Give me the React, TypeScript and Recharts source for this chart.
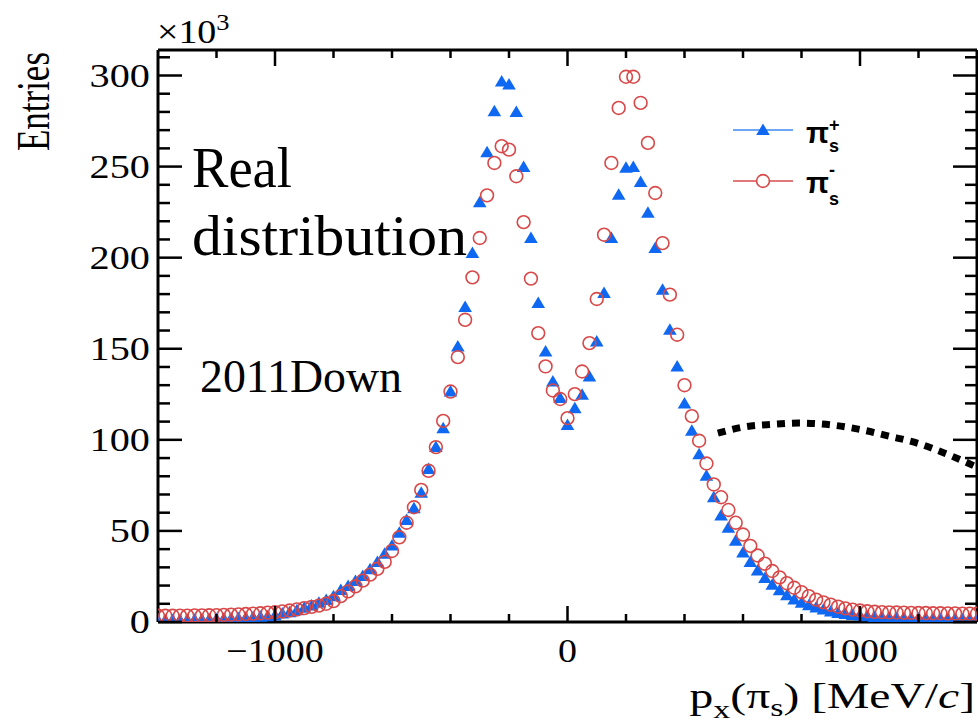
import React from 'react';
import { ScatterChart, Scatter, XAxis, YAxis, Legend } from 'recharts';

// ---------- data ----------
const binCentres = [
  -1400, -1375, -1350, -1325, -1300, -1275, -1250, -1225, -1200, -1175,
  -1150, -1125, -1100, -1075, -1050, -1025, -1000, -975, -950, -925,
  -900, -875, -850, -825, -800, -775, -750, -725, -700, -675,
  -650, -625, -600, -575, -550, -525, -500, -475, -450, -425,
  -400, -375, -350, -325, -300, -275, -250, -225, -200, -175,
  -150, -125, -100, -75, -50, -25, 0, 25, 50, 75,
  100, 125, 150, 175, 200, 225, 250, 275, 300, 325,
  350, 375, 400, 425, 450, 475, 500, 525, 550, 575,
  600, 625, 650, 675, 700, 725, 750, 775, 800, 825,
  850, 875, 900, 925, 950, 975, 1000, 1025, 1050, 1075,
  1100, 1125, 1150, 1175, 1200, 1225, 1250, 1275, 1300, 1325,
  1350, 1375, 1400,
];

// pi_s^+ entries (x10^3)
const piPlus = [
  1.0, 1.0, 1.1, 1.1, 1.2, 1.3, 1.4, 1.5, 1.6, 1.8,
  1.9, 2.1, 2.3, 2.6, 2.9, 3.2, 3.6, 4.6, 5.4, 6.5,
  7.8, 9.1, 10.5, 12.1, 14.1, 17.5, 19.8, 22.5, 25.3, 29,
  33, 37.5, 42, 49, 56, 62.5, 71, 84, 96, 106.4,
  126.5, 151.3, 172.9, 202.6, 230.4, 257.9, 280.4, 296.7, 295, 280,
  249.8, 210.8, 175.1, 148.5, 132, 122.9, 108.2, 117.4, 124.7, 134.8,
  154, 180.6, 210.8, 234.6, 249.3, 249.8, 241.6, 224.7, 205.3, 182.4,
  160.4, 140.3, 120, 105, 92.1, 80.3, 68.5, 58.4, 51.8, 44.6,
  38.2, 32.9, 28.3, 24.1, 20.4, 17.4, 14.7, 12.4, 10.6, 9.2,
  7.9, 6.8, 5.8, 5.0, 4.4, 3.9, 3.5, 3.1, 2.8, 2.6,
  2.4, 2.2, 2.1, 2.0, 1.9, 1.8, 1.7, 1.7, 1.6, 1.6,
  1.5, 1.5, 1.5,
];

// pi_s^- entries (x10^3)
const piMinus = [
  3.4, 3.4, 3.4, 3.5, 3.5, 3.6, 3.6, 3.7, 3.8, 3.9,
  4.0, 4.2, 4.4, 4.6, 4.8, 5.1, 5.4, 5.8, 6.3, 6.9,
  7.6, 8.3, 9.0, 10.0, 11.5, 14.2, 16.8, 19.6, 22.7, 26,
  29.2, 33, 39, 46.5, 54.5, 63, 72.5, 83, 96, 110.4,
  126.5, 145.4, 165.9, 189.2, 210.8, 234.2, 252, 261.2, 259.3, 244.7,
  219.5, 188.5, 158.6, 140.3, 127.1, 122.4, 111.9, 125.1, 137.5, 153.1,
  177.3, 212.6, 252, 282.2, 299.3, 299.3, 285, 263, 235.5, 208,
  179.7, 157.7, 130, 113, 99.5, 87, 75.5, 68.5, 61.5, 54.5,
  48, 41.8, 36.5, 32, 28, 24.5, 21.3, 18.8, 16.4, 14.2,
  12.3, 10.8, 9.5, 8.4, 7.5, 6.8, 6.3, 5.9, 5.6, 5.4,
  5.3, 5.2, 5.1, 5.0, 4.9, 4.9, 4.8, 4.8, 4.7, 4.7,
  4.6, 4.6, 4.5,
];

// hand-drawn dotted arc annotation
const arcX = [514, 600, 700, 790, 900, 1000, 1100, 1200, 1300, 1400];
const arcY = [103.7, 107, 108.5, 109.2, 108.2, 105.7, 102, 98, 92, 85];

const xMajorTicks = [-1000, 0, 1000];
const xAllTicks = [-1200, -1000, -800, -600, -400, -200, 0, 200, 400, 600, 800, 1000, 1200];
const yMajorTicks = [0, 50, 100, 150, 200, 250, 300];
const yAllTicks = [
  0, 10, 20, 30, 40, 50, 60, 70, 80, 90, 100, 110, 120, 130, 140, 150,
  160, 170, 180, 190, 200, 210, 220, 230, 240, 250, 260, 270, 280, 290, 300, 310,
];

const seriesNames = ['π_s^+', 'π_s^-'];
const legendSup = ['+', '-'];

// ---------- styles ----------
const BLUE = '#0f68f2';
const BLUE_LINE = '#6ea6f6';
const RED = '#d84848';
const RED_LINE = '#e27878';
const SERIF = '"Liberation Serif", "Times New Roman", serif';
const SANS = '"Liberation Sans", Arial, sans-serif';

const plusData = binCentres.map((x, i) => ({ x, y: piPlus[i] }));
const minusData = binCentres.map((x, i) => ({ x, y: piMinus[i] }));
const arcData = arcX.map((x, i) => ({ x, y: arcY[i] }));

const Triangle = (props: any) => {
  const { cx, cy } = props;
  if (cx == null || cy == null) return <g />;
  return (
    <path
      d={`M${cx},${cy - 6.5} L${cx + 6.8},${cy + 5} L${cx - 6.8},${cy + 5} Z`}
      fill={BLUE}
    />
  );
};

const OpenCircle = (props: any) => {
  const { cx, cy } = props;
  if (cx == null || cy == null) return <g />;
  return <circle cx={cx} cy={cy} r={6.4} fill="none" stroke={RED} strokeWidth={1.6} />;
};

const NoShape = () => <g />;

const fmtX = (v: number) => (v < 0 ? `\u2212${Math.abs(v)}` : `${v}`);

const BottomTick = (props: any) => {
  const { x, y, payload } = props;
  const v = payload.value;
  const major = xMajorTicks.includes(v);
  return (
    <g>
      <line x1={x} x2={x} y1={y} y2={y - (major ? 16 : 8)} stroke="#000" strokeWidth={2.5} />
      {major && (
        <g transform={`translate(${x},${y + 40}) scale(1.15,1)`}>
          <text x={0} y={0} textAnchor="middle" fontFamily={SERIF} fontSize={33} fill="#000">
            {fmtX(v)}
          </text>
        </g>
      )}
    </g>
  );
};

const TopTick = (props: any) => {
  const { x, y, payload } = props;
  const major = xMajorTicks.includes(payload.value);
  return <line x1={x} x2={x} y1={y} y2={y + (major ? 16 : 8)} stroke="#000" strokeWidth={2.5} />;
};

const LeftTick = (props: any) => {
  const { x, y, payload } = props;
  const v = payload.value;
  const major = yMajorTicks.includes(v);
  return (
    <g>
      <line x1={x} x2={x + (major ? 24 : 12)} y1={y} y2={y} stroke="#000" strokeWidth={2.5} />
      {major && (
        <g transform={`translate(${x - 8},${y + 11}) scale(1.22,1)`}>
          <text x={0} y={0} textAnchor="end" fontFamily={SERIF} fontSize={33} fill="#000">
            {v}
          </text>
        </g>
      )}
    </g>
  );
};

const RightTick = (props: any) => {
  const { x, y, payload } = props;
  const major = yMajorTicks.includes(payload.value);
  return <line x1={x} x2={x - (major ? 24 : 12)} y1={y} y2={y} stroke="#000" strokeWidth={2.5} />;
};

const XTitle = (props: any) => {
  const vb = props.viewBox || { x: 158, y: 622, width: 819, height: 1 };
  const xr = vb.x + vb.width - 2;
  const yb = vb.y + 86;
  return (
    <g transform={`translate(${xr},${yb}) scale(1.36,1)`}>
      <text x={0} y={0} textAnchor="end" fontFamily={SERIF} fontSize={35} fill="#000">
        <tspan>p</tspan>
        <tspan dy={10} fontSize={25}>x</tspan>
        <tspan dy={-10}>(π</tspan>
        <tspan dy={8} fontSize={25}>s</tspan>
        <tspan dy={-8}>) [MeV/</tspan>
        <tspan fontStyle="italic">c</tspan>
        <tspan>]</tspan>
      </text>
    </g>
  );
};

const YTitle = (props: any) => {
  const vb = props.viewBox || { x: 98, y: 50, width: 60, height: 572 };
  const top = vb.y + 2;
  return (
    <g transform={`translate(49,${top}) scale(1.35,1) rotate(-90)`}>
      <text x={0} y={0} textAnchor="end" fontFamily={SERIF} fontSize={35} fill="#000">
        Entries
      </text>
    </g>
  );
};

const LegendBox = () => {
  const rows = [
    { y: 25, color: BLUE_LINE, marker: 'tri', sup: legendSup[0], base: 38, supDy: -12, subDy: 21, back: -10.5 },
    { y: 76, color: RED_LINE, marker: 'circ', sup: legendSup[1], base: 88, supDy: -17, subDy: 29, back: -6 },
  ];
  return (
    <svg width={150} height={112} style={{ display: 'block', overflow: 'visible' }}>
      {rows.map((r, i) => (
        <g key={i}>
          <line x1={8} x2={68} y1={r.y} y2={r.y} stroke={r.color} strokeWidth={2} />
          {r.marker === 'tri' ? (
            <path d={`M38,${r.y - 6.5} L44.8,${r.y + 5} L31.2,${r.y + 5} Z`} fill={BLUE} />
          ) : (
            <circle cx={38} cy={r.y} r={6.4} fill="#fff" stroke={RED} strokeWidth={1.6} />
          )}
          <text x={81} y={r.base} fontFamily={SANS} fontWeight="bold" fontSize={30} fill="#000">
            π
            <tspan dy={r.supDy} fontSize={18}>{r.sup}</tspan>
            <tspan dx={r.back} dy={r.subDy} fontSize={18}>s</tspan>
          </text>
        </g>
      ))}
    </svg>
  );
};

export default function App() {
  return (
    <div style={{ position: 'absolute', left: 0, top: 0, width: 978, height: 727, background: '#fff' }}>
      <ScatterChart
        width={978}
        height={727}
        margin={{ top: 49, right: 0, bottom: 104, left: 98 }}
      >
        <XAxis
          xAxisId="bottom"
          dataKey="x"
          type="number"
          domain={[-1400, 1400]}
          allowDataOverflow
          ticks={xAllTicks}
          interval={0}
          height={1}
          tickSize={0}
          tickMargin={0}
          tickLine={false}
          axisLine={{ stroke: '#000', strokeWidth: 3 }}
          tick={<BottomTick />}
          label={{ content: <XTitle /> }}
        />
        <XAxis
          xAxisId="top"
          orientation="top"
          dataKey="x"
          type="number"
          domain={[-1400, 1400]}
          allowDataOverflow
          ticks={xAllTicks}
          interval={0}
          height={1}
          tickSize={0}
          tickMargin={0}
          tickLine={false}
          axisLine={{ stroke: '#000', strokeWidth: 3 }}
          tick={<TopTick />}
        />
        <YAxis
          yAxisId="left"
          dataKey="y"
          type="number"
          domain={[0, 314]}
          allowDataOverflow
          ticks={yAllTicks}
          interval={0}
          width={60}
          tickSize={0}
          tickMargin={0}
          tickLine={false}
          axisLine={{ stroke: '#000', strokeWidth: 3 }}
          tick={<LeftTick />}
          label={{ content: <YTitle /> }}
        />
        <YAxis
          yAxisId="right"
          orientation="right"
          dataKey="y"
          type="number"
          domain={[0, 314]}
          allowDataOverflow
          ticks={yAllTicks}
          interval={0}
          width={1}
          tickSize={0}
          tickMargin={0}
          tickLine={false}
          axisLine={{ stroke: '#000', strokeWidth: 3 }}
          tick={<RightTick />}
        />
        <Scatter
          name={seriesNames[0]}
          data={plusData}
          xAxisId="bottom"
          yAxisId="left"
          fill={BLUE}
          shape={<Triangle />}
          isAnimationActive={false}
        />
        <Scatter
          name={seriesNames[1]}
          data={minusData}
          xAxisId="bottom"
          yAxisId="left"
          fill={RED}
          shape={<OpenCircle />}
          isAnimationActive={false}
        />
        <Scatter
          name="arc"
          data={arcData}
          xAxisId="bottom"
          yAxisId="left"
          legendType="none"
          line={{ stroke: '#000', strokeWidth: 7, strokeDasharray: '8 7' }}
          lineJointType="monotoneX"
          shape={<NoShape />}
          isAnimationActive={false}
        />
        <Legend
          layout="vertical"
          align="center"
          verticalAlign="middle"
          wrapperStyle={{ left: 725, top: 105, width: 150, height: 112 }}
          content={<LegendBox />}
        />
      </ScatterChart>
      <svg
        width={978}
        height={727}
        style={{ position: 'absolute', left: 0, top: 0, pointerEvents: 'none' }}
      >
        <g transform="translate(157,43) scale(1.15,1)">
          <text x={0} y={0} fontFamily={SERIF} fontSize={33} fill="#000">
            ×10
            <tspan dy={-13} fontSize={23}>3</tspan>
          </text>
        </g>
        <text x={192} y={187} fontFamily={SERIF} fontSize={56} fill="#000" textLength={100} lengthAdjust="spacingAndGlyphs">
          Real
        </text>
        <text x={192} y={255} fontFamily={SERIF} fontSize={56} fill="#000" textLength={275} lengthAdjust="spacingAndGlyphs">
          distribution
        </text>
        <text x={200} y={392} fontFamily={SERIF} fontSize={46} fill="#000" textLength={202} lengthAdjust="spacingAndGlyphs">
          2011Down
        </text>
      </svg>
    </div>
  );
}
